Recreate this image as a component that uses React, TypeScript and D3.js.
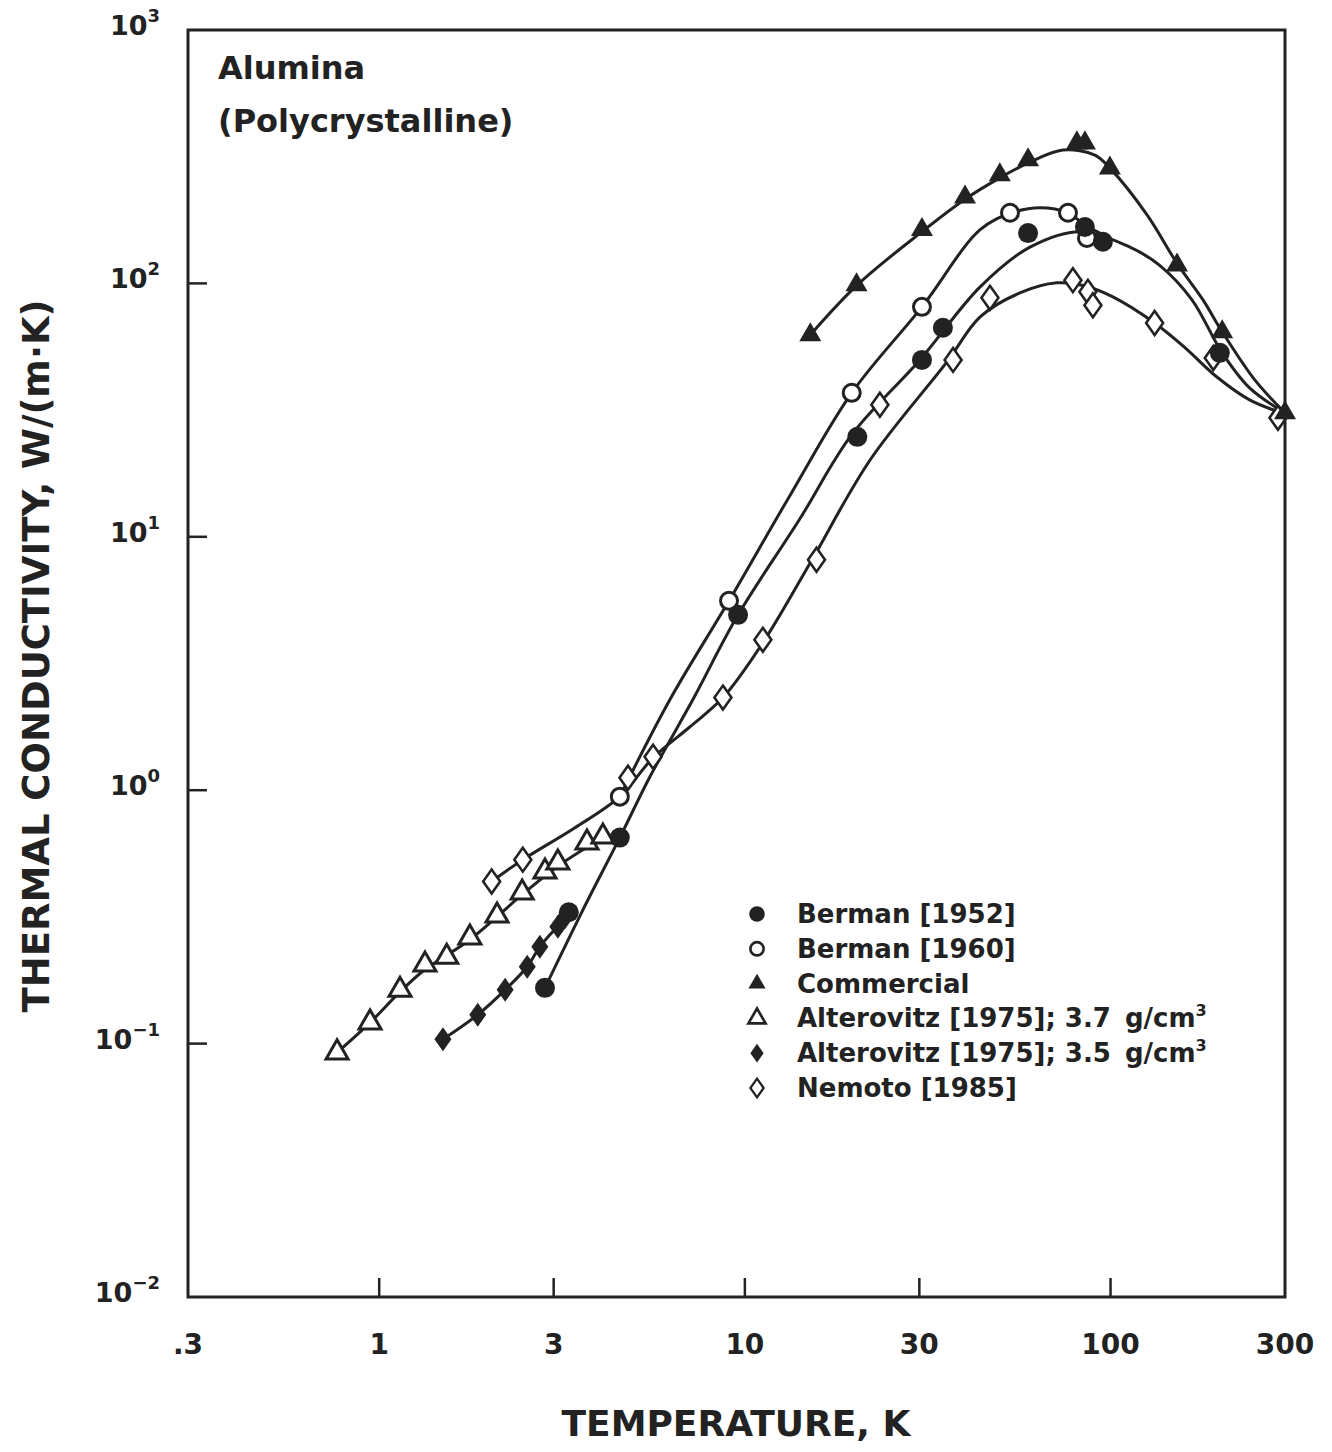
import React from "react";
import * as d3 from "d3";

type Pt = [number, number];

const W = 1332;
const H = 1452;
const FONT = "'DejaVu Sans', 'Liberation Sans', Arial, sans-serif";
const INK = "#222";

// ---- axis ticks ----
const xTickValues = [0.3, 1, 3, 10, 30, 100, 300];
const xTickLabels = [".3", "1", "3", "10", "30", "100", "300"];
const yTickValues = [0.01, 0.1, 1, 10, 100, 1000];
const yTickExponents = ["\u22122", "\u22121", "0", "1", "2", "3"];

// ---- measured points (T in K, k in W/(m·K)) ----
const berman1952: Pt[] = [
  [2.84, 0.166], [3.3, 0.33], [4.55, 0.65], [9.58, 4.92], [20.3, 24.8], [30.5, 49.9],
  [34.8, 66.8], [59.5, 158], [85.1, 167], [95.3, 146], [199, 53.2],
];
const berman1960: Pt[] = [
  [4.55, 0.943], [9.05, 5.59], [19.6, 37.0], [30.5, 80.8], [53.1, 190], [76.5, 190], [86.2, 151],
];
const commercial: Pt[] = [
  [15.1, 62.6], [20.2, 98.6], [30.5, 163], [40, 219], [49.8, 268], [59.5, 307],
  [80.9, 358], [85.1, 358], [99.6, 285], [152, 118], [202, 64.4], [300, 30.8],
];
const alterovitz37: Pt[] = [
  [0.767, 0.0922], [0.944, 0.121], [1.14, 0.163], [1.334, 0.205], [1.53, 0.22], [1.77, 0.262],
  [2.1, 0.32], [2.46, 0.394], [2.84, 0.477], [3.08, 0.518], [3.7, 0.621], [4.09, 0.656],
];
const alterovitz35: Pt[] = [
  [1.494, 0.104], [1.86, 0.13], [2.21, 0.163], [2.54, 0.201], [2.75, 0.241], [3.08, 0.289], [3.22, 0.315],
];
const nemoto: Pt[] = [
  [2.03, 0.436], [2.47, 0.532], [4.79, 1.12], [5.61, 1.355], [8.71, 2.32], [11.2, 3.92],
  [15.7, 8.12], [23.4, 33.2], [37.1, 49.9], [46.8, 87.7], [78.9, 103], [86.7, 92.6],
  [89.5, 82], [132, 69.8], [191, 50.8], [287, 29.5],
];

// ---- fitted curves ----
const curveBerman1952: Pt[] = [
  [2.84, 0.166], [3.61, 0.338], [4.55, 0.65], [5.5, 1.13], [7.21, 2.28], [9.58, 4.92],
  [14.1, 11.7], [19.6, 25.3], [30.1, 49.9], [44, 96.9], [60.2, 139], [82.5, 160],
  [113, 139], [136, 118], [167, 86.1], [202, 53.2], [240, 38.7], [300, 30.8],
];
const curveBerman1960: Pt[] = [
  [4.55, 0.943], [6.24, 2.28], [9.05, 5.59], [13.3, 14.6], [19.6, 37.0], [30.5, 80.8],
  [44, 163], [53.7, 190], [64.1, 199], [76.5, 190], [85.1, 170], [93.5, 158],
];
const curveCommercial: Pt[] = [
  [15.1, 62.6], [20.3, 98.6], [30.5, 160], [40, 215], [49.8, 261], [60.2, 301],
  [74.1, 336], [90.6, 321], [99.6, 285], [126, 186], [152, 120], [179, 86.1],
  [202, 64.4], [248, 41.6], [300, 30.8],
];
const curveAlterovitz37: Pt[] = [
  [0.767, 0.0922], [0.944, 0.121], [1.14, 0.16], [1.334, 0.196], [1.77, 0.257],
  [2.46, 0.387], [3.12, 0.508], [4.09, 0.638], [4.55, 0.65],
];
const curveAlterovitz35: Pt[] = [
  [1.494, 0.104], [1.86, 0.13], [2.21, 0.163], [2.54, 0.201], [2.75, 0.241], [3.08, 0.289], [3.43, 0.323],
];
const curveNemoto: Pt[] = [
  [2.03, 0.436], [2.47, 0.532], [3.43, 0.711], [4.55, 0.943], [5.61, 1.343], [7.08, 1.78],
  [8.71, 2.32], [11.2, 3.82], [15.1, 7.9], [22, 20.1], [35.7, 49], [44, 73.8], [56.5, 91.7],
  [71.3, 100.5], [85.1, 97.7], [101.5, 88.5], [132, 69.8], [160, 55.7], [195, 42.8],
  [240, 34.7], [300, 30.5],
];

type Kind = "fc" | "oc" | "ft" | "ot" | "fd" | "od";

const legendNames = [
  "Berman [1952]",
  "Berman [1960]",
  "Commercial",
  "Alterovitz [1975]; 3.7",
  "Alterovitz [1975]; 3.5",
  "Nemoto [1985]",
];
const legendKinds: Kind[] = ["fc", "oc", "ft", "ot", "fd", "od"];
const legendUnits = [false, false, false, true, true, false];

function Marker({ kind, cx, cy, s = 1 }: { kind: Kind; cx: number; cy: number; s?: number }) {
  const sw = 3 * Math.min(1, s + 0.1);
  if (kind === "fc") return <circle cx={cx} cy={cy} r={10 * s} fill={INK} />;
  if (kind === "oc")
    return <circle cx={cx} cy={cy} r={8.5 * s} fill="#fff" stroke={INK} strokeWidth={sw} />;
  if (kind === "ft" || kind === "ot") {
    const a = 22 * s;
    const h = (a * Math.sqrt(3)) / 2;
    const pts = `${cx},${cy - (2 * h) / 3} ${cx + a / 2},${cy + h / 3} ${cx - a / 2},${cy + h / 3}`;
    return kind === "ft" ? (
      <polygon points={pts} fill={INK} />
    ) : (
      <polygon points={pts} fill="#fff" stroke={INK} strokeWidth={sw} strokeLinejoin="miter" />
    );
  }
  const hw = 8.5 * s;
  const hh = 12 * s;
  const pts = `${cx},${cy - hh} ${cx + hw},${cy} ${cx},${cy + hh} ${cx - hw},${cy}`;
  return kind === "fd" ? (
    <polygon points={pts} fill={INK} />
  ) : (
    <polygon points={pts} fill="#fff" stroke={INK} strokeWidth={sw * 0.85} />
  );
}

export default function App() {
  const x = d3.scaleLog().domain([0.3, 300]).range([188, 1285]);
  const y = d3.scaleLog().domain([0.01, 1000]).range([1297, 30]);
  const line = d3
    .line<Pt>()
    .x((d) => x(d[0]))
    .y((d) => y(d[1]))
    .curve(d3.curveCatmullRom.alpha(0.5));

  const curves = [
    curveAlterovitz37,
    curveAlterovitz35,
    curveNemoto,
    curveBerman1952,
    curveBerman1960,
    curveCommercial,
  ];
  const series: { kind: Kind; data: Pt[] }[] = [
    { kind: "ot", data: alterovitz37 },
    { kind: "fd", data: alterovitz35 },
    { kind: "od", data: nemoto },
    { kind: "oc", data: berman1960 },
    { kind: "fc", data: berman1952 },
    { kind: "ft", data: commercial },
  ];

  const [x0, x1] = x.range();
  const [y0, y1] = y.range();

  return (
    <div style={{ position: "absolute", left: 0, top: 0, width: W, height: H, background: "#fff" }}>
      <svg width={W} height={H} viewBox={`0 0 ${W} ${H}`} style={{ display: "block" }}>
        <rect x={0} y={0} width={W} height={H} fill="#fff" />
        {/* curves */}
        <g fill="none" stroke={INK} strokeWidth={3} strokeLinejoin="round" strokeLinecap="round">
          {curves.map((c, i) => (
            <path key={i} d={line(c) || ""} />
          ))}
        </g>
        {/* markers */}
        {series.map((sr, i) => (
          <g key={i}>
            {sr.data.map((d, j) => (
              <Marker key={j} kind={sr.kind} cx={x(d[0])} cy={y(d[1])} />
            ))}
          </g>
        ))}
        {/* frame */}
        <rect x={x0} y={y1} width={x1 - x0} height={y0 - y1} fill="none" stroke={INK} strokeWidth={3} />
        {/* x ticks */}
        {xTickValues.map((v, i) => (
          <g key={"xt" + i}>
            {i > 0 && i < xTickValues.length - 1 && (
              <line x1={x(v)} x2={x(v)} y1={y0} y2={y0 - 19} stroke={INK} strokeWidth={2.5} />
            )}
            <text
              x={x(v)}
              y={1354}
              textAnchor="middle"
              fontFamily={FONT}
              fontWeight="bold"
              fontSize={28}
              fill={INK}
            >
              {xTickLabels[i]}
            </text>
          </g>
        ))}
        {/* y ticks */}
        {yTickValues.map((v, i) => (
          <g key={"yt" + i}>
            {i > 0 && i < yTickValues.length - 1 && (
              <line x1={x0} x2={x0 + 19} y1={y(v)} y2={y(v)} stroke={INK} strokeWidth={2.5} />
            )}
            <text
              x={160}
              y={y(v) + 5}
              textAnchor="end"
              fontFamily={FONT}
              fontWeight="bold"
              fontSize={27}
              fill={INK}
            >
              10
              <tspan fontSize={18} dy={-13}>
                {yTickExponents[i]}
              </tspan>
            </text>
          </g>
        ))}
        {/* axis titles */}
        <text
          x={736}
          y={1436}
          textAnchor="middle"
          fontFamily={FONT}
          fontWeight="bold"
          fontSize={36}
          fill={INK}
        >
          TEMPERATURE, K
        </text>
        <text
          transform="translate(49,656) rotate(-90)"
          textAnchor="middle"
          fontFamily={FONT}
          fontWeight="bold"
          fontSize={37}
          fill={INK}
        >
          THERMAL CONDUCTIVITY, W/(m·K)
        </text>
        {/* annotation */}
        <text x={218} y={79} fontFamily={FONT} fontWeight="bold" fontSize={32} fill={INK}>
          Alumina
        </text>
        <text x={218} y={132} fontFamily={FONT} fontWeight="bold" fontSize={32} fill={INK}>
          (Polycrystalline)
        </text>
        {/* legend */}
        {legendNames.map((n, i) => {
          const cy = 914 + i * 34.8;
          return (
            <g key={"lg" + i}>
              <Marker kind={legendKinds[i]} cx={757} cy={cy} s={0.78} />
              <text x={797} y={cy + 9} fontFamily={FONT} fontWeight="bold" fontSize={26} fill={INK}>
                {n}
                {legendUnits[i] && (
                  <>
                    <tspan dx={14}>g/cm</tspan>
                    <tspan fontSize={16} dy={-11}>
                      3
                    </tspan>
                  </>
                )}
              </text>
            </g>
          );
        })}
      </svg>
    </div>
  );
}
